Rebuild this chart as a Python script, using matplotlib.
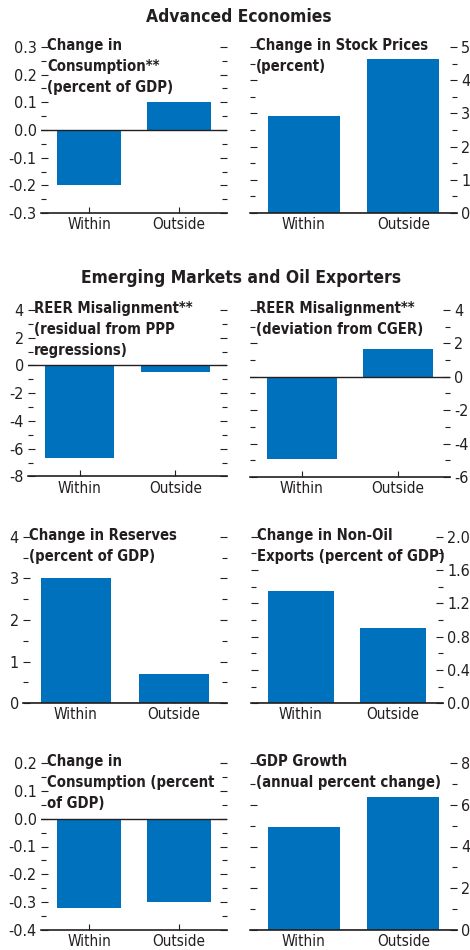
import numpy as np
import matplotlib
matplotlib.use('Agg')
import matplotlib.pyplot as plt
from matplotlib.ticker import MultipleLocator, FormatStrFormatter

# Condensed sans for the narrow look of the original
plt.rcParams['font.family'] = ['DejaVu Sans']
plt.rcParams['font.stretch'] = 'condensed'
plt.rcParams['axes.unicode_minus'] = False

# Data
categories = ['Within', 'Outside']

adv_consumption = [-0.20, 0.10]
adv_stock_prices = [2.92, 4.64]
em_reer_ppp = [-6.64, -0.48]
em_reer_cger = [-4.95, 1.66]
em_reserves = [3.00, 0.70]
em_nonoil_exports = [1.35, 0.90]
em_consumption = [-0.32, -0.30]
em_gdp_growth = [4.94, 6.36]

bar_color = '#0071bc'
ink = '#231f20'

W, H = 470, 950
fig = plt.figure(figsize=(W / 100, H / 100), dpi=100)


def add_axes_px(left, top, right, bottom):
    return fig.add_axes([left / W, 1 - bottom / H, (right - left) / W, (bottom - top) / H])


def panel(box, values, title, ylim, step, fmt, side):
    ax = add_axes_px(*box)
    x = np.arange(len(categories))
    ax.bar(x, values, width=0.72, color=bar_color, zorder=2)
    ax.set_xlim(-0.54, 1.54)
    ax.set_ylim(*ylim)
    ax.axhline(0, color=ink, lw=1.0, zorder=3)

    for s in ['top', 'left', 'right']:
        ax.spines[s].set_visible(False)
    ax.spines['bottom'].set_color(ink)
    ax.spines['bottom'].set_linewidth(1.2)

    ax.set_xticks(x)
    ax.set_xticklabels(categories)
    ax.tick_params(axis='x', direction='in', length=4, width=0.8, color=ink,
                   pad=3, labelsize=11, labelcolor=ink)

    ax.yaxis.set_major_locator(MultipleLocator(step))
    ax.yaxis.set_minor_locator(MultipleLocator(step / 2))
    ax.yaxis.set_major_formatter(FormatStrFormatter(fmt))
    ax.tick_params(axis='y', which='both', direction='in', left=True, right=True,
                   labelleft=(side == 'left'), labelright=(side == 'right'),
                   color=ink, width=0.8, labelcolor=ink)
    ax.tick_params(axis='y', which='major', length=5, pad=3, labelsize=11.5)
    ax.tick_params(axis='y', which='minor', length=3.5)

    ax.annotate(title, xy=(0, 1), xycoords='axes fraction', xytext=(6, 9),
                textcoords='offset pixels', ha='left', va='top',
                fontsize=10.6, fontweight='bold', color=ink, linespacing=1.5)
    return ax


# Section titles
fig.text(239 / W, 1 - 17 / H, 'Advanced Economies', ha='center', va='center',
         fontsize=12.5, fontweight='bold', color=ink)
fig.text(241 / W, 1 - 278 / H, 'Emerging Markets and Oil Exporters', ha='center',
         va='center', fontsize=12.5, fontweight='bold', color=ink)

# Advanced economies
panel((41, 47, 227, 213), adv_consumption,
      'Change in\nConsumption**\n(percent of GDP)', (-0.3, 0.3), 0.1, '%.1f', 'left')
panel((250, 47, 457, 213), adv_stock_prices,
      'Change in Stock Prices\n(percent)', (0, 5), 1, '%d', 'right')

# Emerging markets and oil exporters
panel((28, 310, 227, 476.5), em_reer_ppp,
      'REER Misalignment**\n(residual from PPP\nregressions)', (-8, 4), 2, '%d', 'left')
panel((250, 310, 450, 477), em_reer_cger,
      'REER Misalignment**\n(deviation from CGER)', (-6, 4), 2, '%d', 'right')
panel((23, 536.7, 227, 703.3), em_reserves,
      'Change in Reserves\n(percent of GDP)', (0, 4), 1, '%d', 'left')
panel((251, 536.7, 443, 703.3), em_nonoil_exports,
      'Change in Non-Oil\nExports (percent of GDP)', (0, 2.0), 0.4, '%.1f', 'right')
panel((41, 763, 227, 930), em_consumption,
      'Change in\nConsumption (percent\nof GDP)', (-0.4, 0.2), 0.1, '%.1f', 'left')
panel((250, 763, 457, 930), em_gdp_growth,
      'GDP Growth\n(annual percent change)', (0, 8), 2, '%d', 'right')

fig.savefig('out.png', dpi=100)
